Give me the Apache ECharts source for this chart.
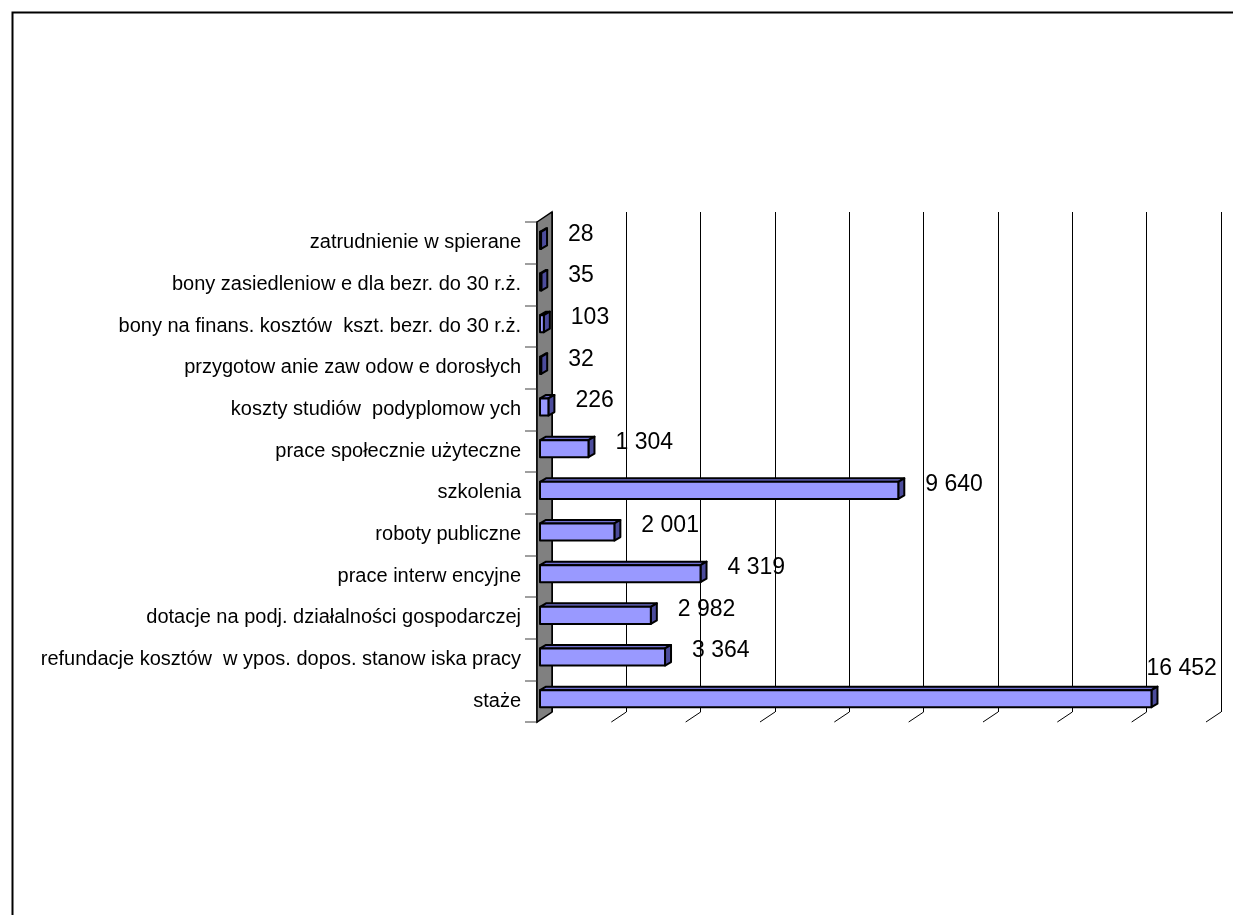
<!DOCTYPE html>
<html>
<head>
<meta charset="utf-8">
<script src="https://cdn.jsdelivr.net/npm/echarts@6/dist/echarts.min.js"></script>
<style>
  html, body { margin: 0; background: #fff; }
  #chart { width: 1233px; height: 915px; }
</style>
</head>
<body>
<div id="chart"></div>
<script>
  // data, bottom category first
  const categories = [
    'staże',
    'refundacje kosztów  w ypos. dopos. stanow iska pracy',
    'dotacje na podj. działalności gospodarczej',
    'prace interw encyjne',
    'roboty publiczne',
    'szkolenia',
    'prace społecznie użyteczne',
    'koszty studiów  podyplomow ych',
    'przygotow anie zaw odow e dorosłych',
    'bony na finans. kosztów  kszt. bezr. do 30 r.ż.',
    'bony zasiedleniow e dla bezr. do 30 r.ż.',
    'zatrudnienie w spierane'
  ]
  const values = [16452, 3364, 2982, 4319, 2001, 9640, 1304, 226, 32, 103, 35, 28]
  const tickValues = [2000, 4000, 6000, 8000, 10000, 12000, 14000, 16000, 18000]

  const FONT = '"Liberation Sans", Arial, sans-serif'
  const DX = 15, DY = -10        // depth of the wall / back plane
  const BAR_DX = 6, BAR_DY = -3.5 // depth of one bar

  function fmt (v) {
    return String(v).replace(/\B(?=(\d{3})+(?!\d))/g, ' ')
  }

  function renderWall (params, api) {
    const cs = params.coordSys
    const b = cs.y + cs.height
    return {
      type: 'polygon',
      shape: { points: [[cs.x, cs.y], [cs.x + DX, cs.y + DY], [cs.x + DX, b + DY], [cs.x, b]] },
      style: { fill: '#808080', stroke: '#000', lineWidth: 1.5 }
    }
  }

  function renderFloorTick (params, api) {
    const cs = params.coordSys
    const p = api.coord([api.value(0), 0])
    const b = cs.y + cs.height
    return {
      type: 'line',
      shape: { x1: p[0] + DX, y1: b + DY, x2: p[0], y2: b },
      style: { stroke: '#000', lineWidth: 1 }
    }
  }

  function renderBar (params, api) {
    const cs = params.coordSys
    const v = api.value(0)
    const idx = api.value(1)
    const s = api.coord([0, idx])
    const e = api.coord([v, idx])
    const h = api.size([0, 1])[1] * 0.41
    const x0 = s[0] + 3
    const x1 = e[0] + 3
    const y0 = s[1] - 2.5 - h / 2
    const y1 = y0 + h
    const stroke = { stroke: '#000', lineWidth: 2, lineJoin: 'round' }
    const txt = fmt(v)
    let lx = x1 + 27
    let ly = (y0 + y1) / 2 - 6
    if (lx + txt.length * 12.6 > cs.x + cs.width) {
      lx = x1 - 5
      ly = y0 - 21
    }
    return {
      type: 'group',
      children: [
        {
          type: 'polygon',
          shape: { points: [[x0, y0], [x0 + BAR_DX, y0 + BAR_DY], [x1 + BAR_DX, y0 + BAR_DY], [x1, y0]] },
          style: Object.assign({ fill: '#6f6fd0' }, stroke)
        },
        {
          type: 'polygon',
          shape: { points: [[x1, y0], [x1 + BAR_DX, y0 + BAR_DY], [x1 + BAR_DX, y1 + BAR_DY], [x1, y1]] },
          style: Object.assign({ fill: '#4c4c9c' }, stroke)
        },
        {
          type: 'rect',
          shape: { x: x0, y: y0, width: x1 - x0, height: h },
          style: Object.assign({ fill: '#9999ff' }, stroke)
        },
        {
          type: 'text',
          style: {
            text: txt, x: lx, y: ly, fill: '#000',
            fontSize: 23, fontFamily: FONT, align: 'left', verticalAlign: 'middle'
          }
        }
      ]
    }
  }

  const chart = echarts.init(document.getElementById('chart'))
  const option = {
    backgroundColor: '#fff',
    animation: false,
    graphic: [
      {
        type: 'rect',
        left: 10, top: 10,
        shape: { x: 0, y: 0, width: 1400, height: 1100 },
        style: { fill: 'none', stroke: '#000', lineWidth: 2 },
        silent: true
      }
    ],
    grid: [
      { left: 537, top: 222, width: 669, height: 500 },
      { left: 552, top: 212, width: 669, height: 500 }
    ],
    xAxis: [
      {
        gridIndex: 0, type: 'value', min: 0, max: 18000, interval: 2000,
        axisLine: { show: false }, axisTick: { show: false },
        axisLabel: { show: false }, splitLine: { show: false }
      },
      {
        gridIndex: 1, type: 'value', min: 0, max: 18000, interval: 2000,
        axisLine: { show: false }, axisTick: { show: false },
        axisLabel: { show: false },
        splitLine: { show: true, lineStyle: { color: '#000', width: 1 } }
      }
    ],
    yAxis: [
      {
        gridIndex: 0, type: 'category', data: categories,
        axisLine: { show: true, lineStyle: { color: '#000', width: 1.5 } },
        axisTick: { show: true, length: 12, interval: 0, lineStyle: { color: '#808080', width: 1.5 } },
        axisLabel: { color: '#000', fontSize: 20, fontFamily: FONT, margin: 16, interval: 0 },
        splitLine: { show: false }
      },
      { gridIndex: 1, type: 'value', show: false, min: 0, max: 1 }
    ],
    series: [
      {
        type: 'custom', xAxisIndex: 0, yAxisIndex: 0,
        renderItem: renderWall, data: [[0, 0]], clip: false, silent: true, z: 2
      },
      {
        type: 'custom', xAxisIndex: 0, yAxisIndex: 0,
        renderItem: renderFloorTick, data: tickValues.map(v => [v, 0]), clip: false, silent: true, z: 2
      },
      {
        type: 'custom', xAxisIndex: 0, yAxisIndex: 0,
        renderItem: renderBar, encode: { x: 0, y: 1 },
        data: values.map((v, i) => [v, i]), clip: false, z: 3
      }
    ]
  }
  chart.setOption(option)
</script>
</body>
</html>
